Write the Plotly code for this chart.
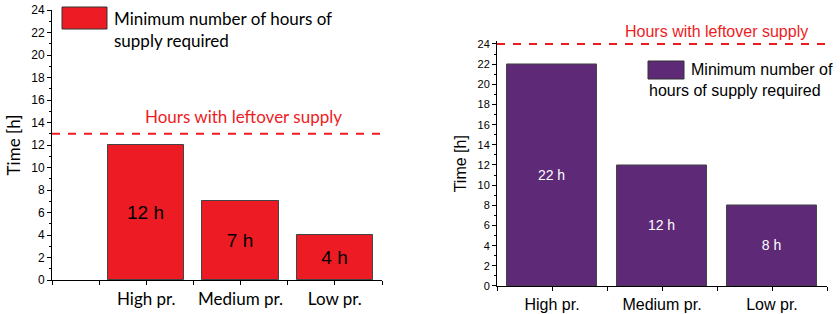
import plotly.graph_objects as go

categories = ["High pr.", "Medium pr.", "Low pr."]
left_values = [12, 7, 4]
right_values = [22, 12, 8]
left_leftover = 13
right_leftover = 24
y_ticks = [0, 2, 4, 6, 8, 10, 12, 14, 16, 18, 20, 22, 24]
line_text = "Hours with leftover supply"

RED = "#ED1C24"
PURPLE = "#5E2A78"
W, H = 840, 314

pos = list(range(len(categories)))
fig = go.Figure()

fig.add_trace(go.Bar(
    x=pos, y=left_values, width=0.81, marker=dict(color=RED, line=dict(color="#444", width=1)),
    text=[f"{v} h" for v in left_values], textposition="inside", insidetextanchor="middle",
    textfont=dict(family="Liberation Sans, Arial, sans-serif", size=19, color="black"),
    xaxis="x", yaxis="y", showlegend=False))
fig.add_trace(go.Bar(
    x=pos, y=right_values, width=0.81, marker=dict(color=PURPLE, line=dict(color="#444", width=1)),
    text=[f"{v} h" for v in right_values], textposition="inside", insidetextanchor="middle",
    textfont=dict(family="Liberation Sans, Arial, sans-serif", size=14, color="white"),
    xaxis="x2", yaxis="y2", showlegend=False))

# dashed leftover lines
fig.add_trace(go.Scatter(x=[-1, 2.5], y=[left_leftover] * 2, mode="lines",
                         line=dict(color=RED, width=2, dash="8px,8px"),
                         xaxis="x", yaxis="y", showlegend=False))
fig.add_trace(go.Scatter(x=[-0.5, 2.5], y=[right_leftover] * 2, mode="lines",
                         line=dict(color=RED, width=2, dash="8px,8px"),
                         xaxis="x2", yaxis="y2", showlegend=False))

def xticks(lo, hi):
    vals = []
    v = lo
    while v <= hi + 1e-9:
        vals.append(v)
        v += 0.5
    text = [categories[int(t)] if (t >= 0 and t == int(t) and int(t) < len(categories)) else "" for t in vals]
    return vals, text

xv1, xt1 = xticks(-1, 2.5)
xv2, xt2 = xticks(-0.5, 2.5)

axis_common = dict(showline=True, linecolor="black", linewidth=1, ticks="outside",
                   tickcolor="black", ticklen=4, showgrid=False, zeroline=False, automargin=False)

# right panel: range slightly above 24 so the dashed line at 24 is not clipped
R_TOP = 24.25
r_px = (286 - 44) / 24.0
r_top_px = 286 - R_TOP * r_px

fig.update_layout(
    width=W, height=H, margin=dict(l=0, r=0, t=0, b=0),
    plot_bgcolor="white", paper_bgcolor="white", bargap=0,
    xaxis=dict(domain=[52 / W, 382 / W], range=[-1, 2.5], tickvals=xv1, ticktext=xt1,
               tickfont=dict(family="Lato, Open Sans, sans-serif", size=17, color="black"),
               anchor="y", **axis_common),
    yaxis=dict(domain=[(H - 280) / H, (H - 10) / H], range=[0, 24], tickvals=y_ticks,
               tickfont=dict(family="Liberation Sans, Arial, sans-serif", size=12, color="black"),
               title=dict(text="Time [h]", standoff=6,
                          font=dict(family="Lato, Open Sans, sans-serif", size=17, color="black")),
               minor=dict(dtick=1, ticks="outside", ticklen=2, tickcolor="black"),
               anchor="x", **axis_common),
    xaxis2=dict(domain=[497 / W, 827 / W], range=[-0.5, 2.5], tickvals=xv2, ticktext=xt2,
                tickfont=dict(family="Liberation Sans, Arial, sans-serif", size=16, color="black"),
                anchor="y2", **axis_common),
    yaxis2=dict(domain=[(H - 286) / H, (H - r_top_px) / H], range=[0, R_TOP], tickvals=y_ticks,
                tickfont=dict(family="Liberation Sans, Arial, sans-serif", size=11, color="black"),
                title=dict(text="Time [h]", standoff=6,
                           font=dict(family="Liberation Sans, Arial, sans-serif", size=16, color="black")),
                minor=dict(dtick=1, ticks="outside", ticklen=2, tickcolor="black"),
                anchor="x2", **axis_common),
)

# legend-like boxes and texts
fig.add_shape(type="rect", xref="paper", yref="paper",
              x0=62 / W, x1=107 / W, y0=(H - 29) / H, y1=(H - 7) / H,
              fillcolor=RED, line=dict(color="#333", width=1))
fig.add_annotation(xref="paper", yref="paper", x=112 / W, y=(H - 30) / H, xanchor="left", yanchor="middle",
                   text="Minimum number of hours of<br>supply required", showarrow=False, align="left",
                   font=dict(family="Lato, Open Sans, sans-serif", size=17, color="black"))
fig.add_annotation(xref="paper", yref="paper", x=243 / W, y=(H - 116) / H, xanchor="center", yanchor="middle",
                   text=line_text, showarrow=False,
                   font=dict(family="Lato, Open Sans, sans-serif", size=17, color=RED))

fig.add_shape(type="rect", xref="paper", yref="paper",
              x0=648 / W, x1=684 / W, y0=(H - 79) / H, y1=(H - 61) / H,
              fillcolor=PURPLE, line=dict(color="#333", width=1))
fig.add_annotation(xref="paper", yref="paper", x=689 / W, y=(H - 70) / H, xanchor="left", yanchor="middle",
                   text="Minimum number of", showarrow=False,
                   font=dict(family="Liberation Sans, Arial, sans-serif", size=16, color="black"))
fig.add_annotation(xref="paper", yref="paper", x=647 / W, y=(H - 90) / H, xanchor="left", yanchor="middle",
                   text="hours of supply required", showarrow=False,
                   font=dict(family="Liberation Sans, Arial, sans-serif", size=16, color="black"))
fig.add_annotation(xref="paper", yref="paper", x=716 / W, y=(H - 32) / H, xanchor="center", yanchor="middle",
                   text=line_text, showarrow=False,
                   font=dict(family="Liberation Sans, Arial, sans-serif", size=16, color=RED))

fig.write_html("out.html", config={"displayModeBar": False},
               post_script="document.body.style.margin='0';document.body.style.overflow='hidden';")
